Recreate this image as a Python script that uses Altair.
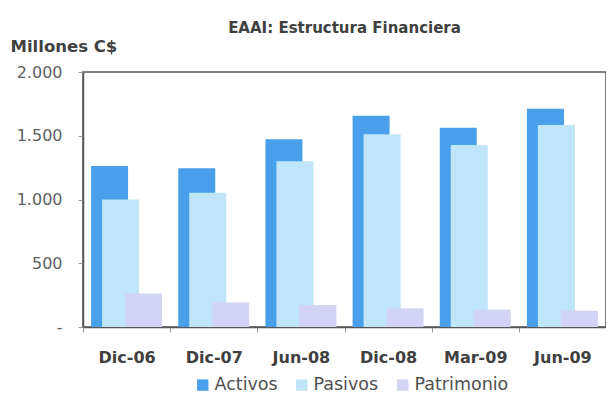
import altair as alt
import pandas as pd

periods = ["Dic-06", "Dic-07", "Jun-08", "Dic-08", "Mar-09", "Jun-09"]
activos = [1262, 1245, 1472, 1657, 1562, 1712]
pasivos = [1000, 1053, 1300, 1511, 1427, 1585]
patrimonio = [262, 193, 173, 147, 137, 127]
series = ["Activos", "Pasivos", "Patrimonio"]
colors = ["#4a9fea", "#bfe5f8", "#d2d3f5"]
offsets = [-17, -6, 17]

rows = []
for s, vals in zip(series, [activos, pasivos, patrimonio]):
    for p, v in zip(periods, vals):
        rows.append({"Periodo": p, "Serie": s, "Valor": v})
df = pd.DataFrame(rows)

FONT = "DejaVu Sans"

color_scale = alt.Scale(domain=series, range=colors)

x_enc = alt.X(
    "Periodo:N",
    sort=periods,
    scale=alt.Scale(paddingInner=0, paddingOuter=0),
    axis=alt.Axis(
        title=None,
        labelAngle=0,
        labelFont=FONT,
        labelFontWeight="bold",
        labelFontSize=16,
        labelColor="#404040",
        labelPadding=17,
        tickBand="extent",
        ticks=True,
        tickSize=5,
        tickColor="#999999",
        domainColor="#555555",
        domainWidth=1.5,
    ),
)
y_enc = alt.Y(
    "Valor:Q",
    scale=alt.Scale(domain=[0, 2000]),
    axis=alt.Axis(
        values=[0, 500, 1000, 1500, 2000],
        labelExpr="datum.value == 0 ? '-' : replace(format(datum.value, ','), ',', '.')",
        labelFont=FONT,
        labelFontSize=16,
        labelColor="#606060",
        labelPadding=16,
        tickSize=5,
        tickColor="#999999",
        domainColor="#555555",
        domainWidth=1.5,
        grid=False,
        title="Millones C$",
        titleAngle=0,
        titleAlign="left",
        titleBaseline="alphabetic",
        titleX=-73,
        titleY=-21,
        titleFont=FONT,
        titleFontSize=16.5,
        titleFontWeight="bold",
        titleColor="#404040",
    ),
)

layers = []
for s, off in zip(series, offsets):
    layers.append(
        alt.Chart(df)
        .transform_filter(alt.datum.Serie == s)
        .mark_bar(width=37, xOffset=off)
        .encode(
            x=x_enc,
            y=y_enc,
            color=alt.Color(
                "Serie:N",
                scale=color_scale,
                legend=alt.Legend(
                    title=None,
                    orient="none",
                    direction="horizontal",
                    legendX=111,
                    legendY=304,
                    symbolType="square",
                    symbolSize=130,
                    symbolStrokeWidth=0,
                    labelFont=FONT,
                    labelFontSize=17.5,
                    labelColor="#505050",
                    columnPadding=15,
                    labelOffset=3,
                ),
            ),
        )
    )

chart = (
    alt.layer(*layers)
    .properties(
        width=523,
        height=255,
        autosize=alt.AutoSizeParams(type="none"),
        padding={"left": 75, "top": 64, "right": 0, "bottom": 66},
        title=alt.TitleParams(
            "EAAI: Estructura Financiera",
            font=FONT,
            fontSize=15,
            fontWeight="bold",
            color="#404040",
            anchor="middle",
            offset=2,
        ),
    )
    .configure_view(stroke="#555555", strokeWidth=1.5)
)

chart.save("out.html", embed_options={"renderer": "svg", "actions": False})
